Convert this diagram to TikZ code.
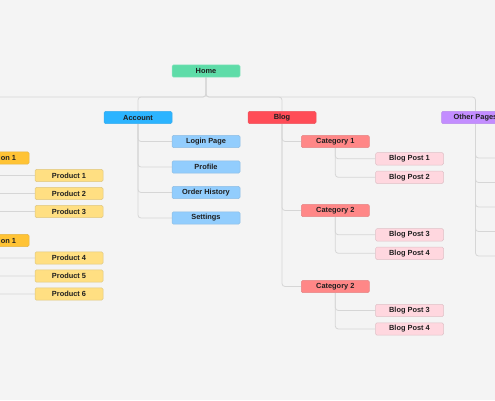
\documentclass[tikz,border=0pt]{standalone}
\usepackage{fontspec}
\setmainfont{Liberation Sans}
\usepackage{tikz}
\usetikzlibrary{positioning,backgrounds}
\definecolor{bggray}{HTML}{F4F4F4}
\definecolor{linegray}{HTML}{D6D6D6}
\definecolor{txtdark}{HTML}{1E1E1E}
\definecolor{homegreen}{HTML}{5EDCA8}
\definecolor{accblue}{HTML}{2CB4FF}
\definecolor{sublight}{HTML}{92CDFD}
\definecolor{blogred}{HTML}{FF4C57}
\definecolor{catsalmon}{HTML}{FF8787}
\definecolor{postpink}{HTML}{FFD7DF}
\definecolor{otherpurple}{HTML}{C38DFF}
\definecolor{colorange}{HTML}{FFC335}
\definecolor{prodyellow}{HTML}{FFDF82}
\tikzset{
  pbox/.style      = {rectangle, rounded corners=1.5pt, line width=0.5pt,
                       minimum width=68pt, minimum height=12.4pt, inner sep=0pt,
                       font=\bfseries\fontsize{7.4}{8}\selectfont\color{txtdark}},
  homebox/.style   = {pbox, fill=homegreen, draw=homegreen!70!white},
  accbox/.style    = {pbox, fill=accblue, draw=accblue!85!gray},
  subbox/.style    = {pbox, fill=sublight, draw=sublight!80!gray},
  blogbox/.style   = {pbox, fill=blogred, draw=blogred!85!gray},
  catbox/.style    = {pbox, fill=catsalmon, draw=catsalmon!80!gray},
  postbox/.style   = {pbox, fill=postpink, draw=postpink!75!gray},
  otherbox/.style  = {pbox, fill=otherpurple, draw=otherpurple!85!gray},
  colbox/.style    = {pbox, fill=colorange, draw=colorange!80!gray},
  prodbox/.style   = {pbox, fill=prodyellow, draw=prodyellow!75!gray},
  conn/.style      = {draw=linegray, line width=0.8pt, rounded corners=3pt},
}

\begin{document}
\begin{tikzpicture}[x=1pt,y=-1pt]
\useasboundingbox (0,0) rectangle (495,400);
\clip (0,0) rectangle (495,400);

% Top level
\node[homebox]  (home)  at (206,71)    {Home};
\node[accbox]   (acc)   at (138,117.5) {Account};
\node[blogbox]  (blog)  at (282,117.5) {Blog};
\node[otherbox] (other) at (475.5,117.5) {Other Pages};
\coordinate (bus)     at (206,97);
\coordinate (busleft) at (-60,97);

% Account pages
\node[subbox] (login) at (206,141.5) {Login Page};
\node[subbox, below=12.6pt of login]   (profile)  {Profile};
\node[subbox, below=12.6pt of profile] (orders)   {Order History};
\node[subbox, below=12.6pt of orders]  (settings) {Settings};

% Collections and products (cut at the left edge)
\node[colbox] (col1) at (-5,158)   {Collection 1};
\node[colbox] (col2) at (-5,240.5) {Collection 1};
\foreach \i in {1,2,3} {
  \node[prodbox] (prod\i) at (69,157.5+18*\i) {Product \i};
}
\foreach \i in {4,5,6} {
  \node[prodbox] (prod\i) at (69,186+18*\i) {Product \i};
}

% Blog categories and posts
\node[catbox] (cat1) at (335.3,141.5) {Category 1};
\node[catbox] (cat2) at (335.3,210.5) {Category 2};
\node[catbox] (cat3) at (335.3,286.5) {Category 2};
\node[postbox] (bp1) at (409.5,158.8) {Blog Post 1};
\node[postbox, below=5.6pt of bp1] (bp2) {Blog Post 2};
\node[postbox] (bp3) at (409.5,234.8) {Blog Post 3};
\node[postbox, below=5.6pt of bp3] (bp4) {Blog Post 4};
\node[postbox] (bp5) at (409.5,310.5) {Blog Post 3};
\node[postbox, below=5.6pt of bp5] (bp6) {Blog Post 4};

% Other pages children (off the right edge)
\foreach \n/\y in {1/158,2/182.5,3/207,4/231.5,5/256} {
  \coordinate (op\n) at (512,\y);
}

% Connectors behind the boxes
\begin{scope}[on background layer]
  \clip (0,0) rectangle (495,400);
  \fill[bggray] (0,0) rectangle (495,400);
  \draw[conn] (home.south) |- (busleft);
  \draw[conn] (home.south) |- (bus -| acc) -- (acc);
  \draw[conn] (home.south) |- (bus -| blog) -- (blog);
  \draw[conn] (home.south) |- (bus -| other) -- (other);
  \foreach \c in {login,profile,orders,settings}
    \draw[conn] (acc) |- (\c.west);
  \foreach \c in {cat1,cat2,cat3}
    \draw[conn] (blog) |- (\c.west);
  \foreach \c/\p in {cat1/bp1,cat1/bp2,cat2/bp3,cat2/bp4,cat3/bp5,cat3/bp6}
    \draw[conn] (\c) |- (\p.west);
  \foreach \c/\p in {col1/prod1,col1/prod2,col1/prod3,col2/prod4,col2/prod5,col2/prod6}
    \draw[conn] (\c) |- (\p.west);
  \foreach \n in {1,...,5}
    \draw[conn] (other) |- (op\n);
\end{scope}
\end{tikzpicture}
\end{document}
